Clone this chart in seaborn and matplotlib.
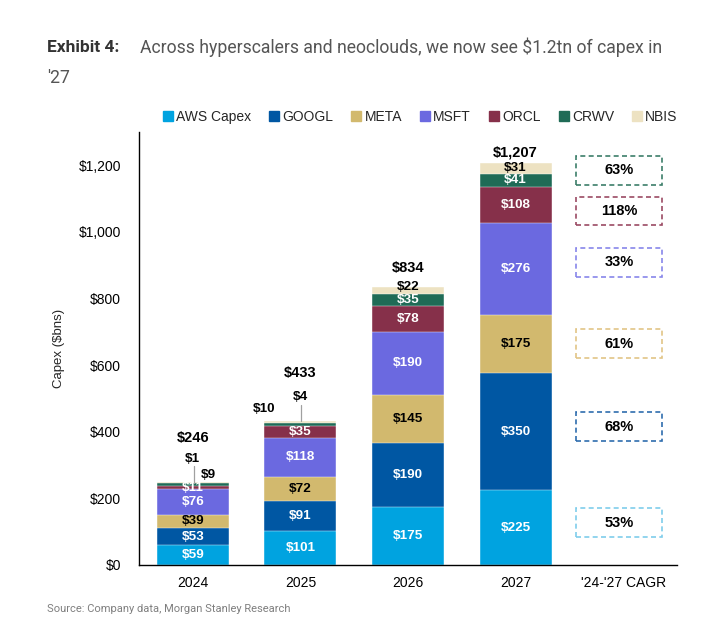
import numpy as np
import pandas as pd
import seaborn as sns
import matplotlib.pyplot as plt
from matplotlib.lines import Line2D
from matplotlib.patches import Rectangle

# Capex by company, $bn
years = ["2024", "2025", "2026", "2027"]
categories = years + ["'24-'27 CAGR"]
companies = ["AWS Capex", "GOOGL", "META", "MSFT", "ORCL", "CRWV", "NBIS"]
aws = [59, 101, 175, 225]
googl = [53, 91, 190, 350]
meta = [39, 72, 145, 175]
msft = [76, 118, 190, 276]
orcl = [11, 35, 78, 108]
crwv = [9, 10, 35, 41]
nbis = [1, 4, 22, 31]
totals = [246, 433, 834, 1207]
cagr = ["53%", "68%", "61%", "33%", "118%", "63%"]  # AWS .. CRWV

colors = ["#00A3E0", "#0057A3", "#D2B96E", "#6B69E0", "#86304A", "#1F6B56", "#EDE2C2"]
box_colors = ["#7FCDEB", "#2F6DAE", "#E2C586", "#8886EA", "#9B4A63", "#3C7E6A"]
dark_text = ["META", "NBIS"]

sns.set_style("white")
plt.rcParams["font.family"] = ["Liberation Sans", "DejaVu Sans"]

fig = plt.figure(figsize=(7.1, 6.3), dpi=100)
ax = fig.add_axes([0.1958, 0.1032, 0.7577, 0.6873])

stack = np.array([aws, googl, meta, msft, orcl, crwv, nbis])
cum = np.cumsum(stack, axis=0)

# stacked bars: draw cumulative heights from the top series down
for i in range(len(companies) - 1, -1, -1):
    df = pd.DataFrame({"year": years, "value": cum[i]})
    sns.barplot(data=df, x="year", y="value", order=categories, color=colors[i],
                saturation=1, width=0.67, edgecolor="white", linewidth=0.3, ax=ax)

# labels placed away from their segment centre: (company, year) -> (x offset, y)
outside = {(5, 0): (0.14, 270), (6, 0): (0.0, 318), (5, 1): (-0.34, 468),
           (6, 1): (0.0, 504), (6, 2): (0.0, 836)}
leaders = {(6, 0): (297, 246), (6, 1): (480, 433)}
total_y = [381, 576, 893, 1239]

for j in range(len(years)):
    for i, name in enumerate(companies):
        v = stack[i, j]
        if (i, j) in outside:
            dx, y = outside[(i, j)]
            ax.text(j + dx, y, f"${v}", ha="center", va="center", fontsize=9.7,
                    fontweight="bold", color="black")
            continue
        y = cum[i, j] - v / 2
        c = "black" if name in dark_text else "white"
        ax.text(j, y, f"${v}", ha="center", va="center", fontsize=9.7,
                fontweight="bold", color=c)
    ax.text(j, total_y[j], f"${totals[j]:,}", ha="center", va="center",
            fontsize=10.5, fontweight="bold", color="black")

for (i, j), (y0, y1) in leaders.items():
    ax.plot([j + 0.01, j + 0.01], [y0, y1], color="#A0A0A0", lw=0.9)

# CAGR boxes
box_y = [127, 415, 664, 909, 1063, 1185]
for k, txt in enumerate(cagr):
    ax.add_patch(Rectangle((3.965 - 0.4, box_y[k] - 43), 0.8, 86, fill=False,
                           edgecolor=box_colors[k], lw=1.2, ls=(0, (3, 2))))
    ax.text(3.965, box_y[k], txt, ha="center", va="center", fontsize=10.5,
            fontweight="bold", color="black")

ax.set_xlim(-0.5, 4.5)
ax.set_ylim(0, 1300)
ax.set_yticks(range(0, 1201, 200))
ax.set_yticklabels([f"${t:,}" for t in range(0, 1201, 200)])
ax.set_xlabel("")
ax.set_ylabel("Capex ($bns)", fontsize=9.5)
ax.tick_params(axis="both", length=0, labelsize=10, colors="black")
ax.tick_params(axis="y", pad=13)
ax.tick_params(axis="x", pad=8)
ax.yaxis.set_label_coords(-0.137, 0.5)
for s in ["top", "right"]:
    ax.spines[s].set_visible(False)
for s in ["left", "bottom"]:
    ax.spines[s].set_color("black")
    ax.spines[s].set_linewidth(1)

handles = [Line2D([], [], marker="s", ls="", color=c, markersize=6.5) for c in colors]
ax.legend(handles, companies, ncol=7, loc="center", bbox_to_anchor=(0.522, 1.035),
          frameon=False, fontsize=10, handletextpad=0.2, columnspacing=1.25,
          handlelength=0.8)

fig.text(47 / 710, 1 - 47 / 630, "Exhibit 4:", family="Roboto", fontweight="bold",
         fontsize=12.5, color="#333333", va="center")
fig.text(140 / 710, 1 - 47 / 630,
         "Across hyperscalers and neoclouds, we now see $1.2tn of capex in",
         family="Roboto", fontsize=12.7, color="#555555", va="center")
fig.text(47 / 710, 1 - 78 / 630, "'27", family="Roboto", fontsize=12.7,
         color="#555555", va="center")
fig.text(47 / 710, 1 - 609 / 630, "Source: Company data, Morgan Stanley Research",
         family="Roboto", fontsize=8, color="#7F7F7F", va="center")

fig.savefig("out.png", dpi=100)
